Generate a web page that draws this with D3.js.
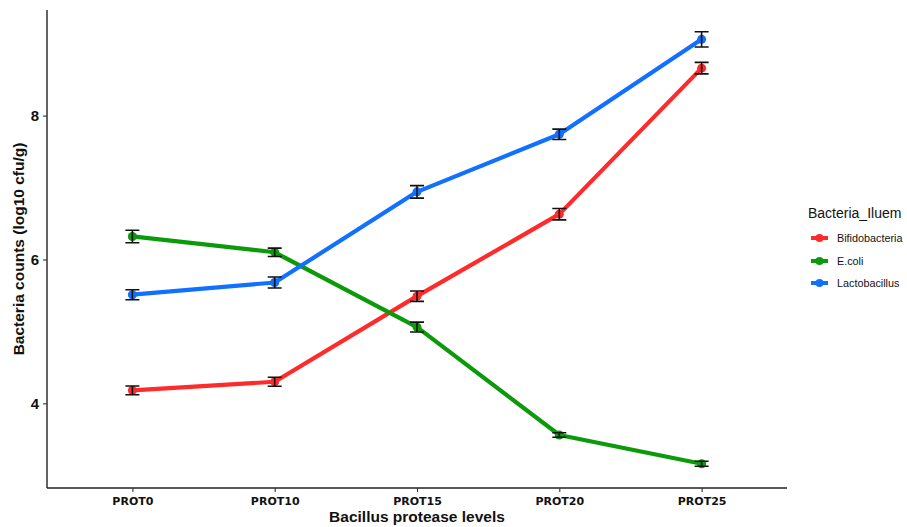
<!DOCTYPE html>
<html><head><meta charset="utf-8">
<script src="https://cdn.jsdelivr.net/npm/d3@7"></script>
<style>body{margin:0;background:#fff}svg{display:block}</style>
</head><body>
<svg id="c" width="907" height="527"></svg>
<script>
const categories = ["PROT0","PROT10","PROT15","PROT20","PROT25"];
const seriesNames = ["Bifidobacteria","E.coli","Lactobacillus"];
const bifidoMean = [4.18,4.30,5.49,6.63,8.66];
const bifidoErr  = [0.06,0.062,0.072,0.079,0.08];
const ecoliMean  = [6.32,6.10,5.06,3.56,3.16];
const ecoliErr   = [0.087,0.058,0.069,0.032,0.035];
const lactoMean  = [5.51,5.68,6.94,7.74,9.06];
const lactoErr   = [0.07,0.076,0.087,0.072,0.106];
const yTicks = [4,6,8];
const colors = ["#ff2a2a","#0a9a0a","#1170ff"];

const series = [
  {name:seriesNames[0], mean:bifidoMean, err:bifidoErr, color:colors[0]},
  {name:seriesNames[1], mean:ecoliMean, err:ecoliErr, color:colors[1]},
  {name:seriesNames[2], mean:lactoMean, err:lactoErr, color:colors[2]}
];

const svg = d3.select("#c");
const L = 47, R = 787, T = 10, B = 488;

const x = d3.scalePoint().domain(categories).range([L,R]).padding(0.6);
let lo = d3.min(series, s => d3.min(s.mean.map((m,i)=>m - s.err[i])));
let hi = d3.max(series, s => d3.max(s.mean.map((m,i)=>m + s.err[i])));
const pad = (hi-lo)*0.05;
const y = d3.scaleLinear().domain([lo-pad, hi+pad]).range([B,T]);

const font = "'DejaVu Sans', Verdana, sans-serif";
const font2 = "Arial, 'Liberation Sans', sans-serif";

// axes
const xAxis = d3.axisBottom(x).tickSizeOuter(0).tickSize(4);
const gx = svg.append("g").attr("transform",`translate(0,${B})`).call(xAxis);
gx.select(".domain").attr("d",`M${L},0H${R}`).attr("stroke","#222").attr("stroke-width",1.4);
gx.selectAll(".tick line").attr("stroke","#333").attr("stroke-width",1.1);
gx.selectAll(".tick text").attr("font-family",font).attr("font-weight","bold")
  .attr("font-size",11).attr("fill","#111").attr("dy","0.9em");

const yAxis = d3.axisLeft(y).tickValues(yTicks).tickSizeOuter(0).tickSize(4).tickFormat(d3.format("d"));
const gy = svg.append("g").attr("transform",`translate(${L},0)`).call(yAxis);
gy.select(".domain").attr("d",`M0,${T}V${B}`).attr("stroke","#222").attr("stroke-width",1.4);
gy.selectAll(".tick line").attr("stroke","#333").attr("stroke-width",1.1);
gy.selectAll(".tick text").attr("font-family",font2).attr("font-weight","bold")
  .attr("font-size",15).attr("fill","#111").attr("x",-8);

// axis titles
svg.append("text").attr("x",(L+R)/2).attr("y",522).attr("text-anchor","middle")
  .attr("font-family",font2).attr("font-weight","bold").attr("font-size",15.5).attr("fill","#111")
  .text("Bacillus protease levels");
svg.append("text").attr("transform",`translate(24,${(T+B)/2}) rotate(-90)`).attr("text-anchor","middle")
  .attr("font-family",font2).attr("font-weight","bold").attr("font-size",15.5).attr("fill","#111")
  .text("Bacteria counts (log10 cfu/g)");

// lines
const line = d3.line().x((d,i)=>x(categories[i])).y(d=>y(d));
series.forEach(s=>{
  svg.append("path").attr("d",line(s.mean)).attr("fill","none")
    .attr("stroke",s.color).attr("stroke-width",4.2).attr("stroke-linejoin","round");
});
series.forEach(s=>{
  svg.append("g").selectAll("circle").data(s.mean).join("circle")
    .attr("cx",(d,i)=>x(categories[i])).attr("cy",d=>y(d)).attr("r",4.5).attr("fill",s.color);
});
// error bars
const cap = 7;
series.forEach(s=>{
  const g = svg.append("g").attr("stroke","#111").attr("stroke-width",1.6).attr("fill","none");
  s.mean.forEach((m,i)=>{
    const cx = x(categories[i]), y1 = y(m - s.err[i]), y2 = y(m + s.err[i]);
    g.append("path").attr("d",`M${cx-cap},${y1}H${cx+cap}M${cx-cap},${y2}H${cx+cap}M${cx},${y1}V${y2}`);
  });
});

// legend
svg.append("text").attr("x",808).attr("y",218).attr("font-family",font2).attr("font-size",14)
  .attr("fill","#111").text("Bacteria_Iluem");
const ly = [238,261,283];
series.forEach((s,i)=>{
  svg.append("line").attr("x1",811).attr("x2",828).attr("y1",ly[i]).attr("y2",ly[i])
    .attr("stroke",s.color).attr("stroke-width",4);
  svg.append("circle").attr("cx",819.5).attr("cy",ly[i]).attr("r",4).attr("fill",s.color);
  svg.append("text").attr("x",837).attr("y",ly[i]).attr("dy","0.35em").attr("font-family",font2)
    .attr("font-size",10.8).attr("fill","#111").text(s.name);
});
</script>
</body></html>
